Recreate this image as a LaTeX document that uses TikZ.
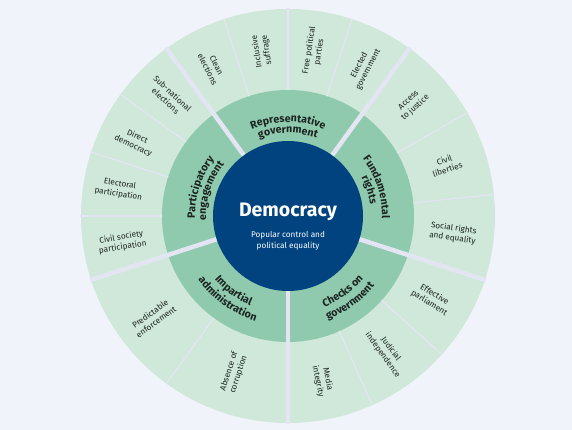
\documentclass[tikz,border=0pt]{standalone}
\usepackage{fontspec}
\setmainfont{Fira Sans}
\usetikzlibrary{decorations.text}
\definecolor{bg}{HTML}{F0F3FA}
\definecolor{outerg}{HTML}{CFE8D9}
\definecolor{midg}{HTML}{8FCAAE}
\definecolor{dblue}{HTML}{00437F}
\definecolor{sep}{HTML}{E3E6F2}
\definecolor{txt}{HTML}{1B2420}
\newcommand\midfont{\fontsize{10.6}{12}\selectfont\bfseries}
\begin{document}
\begin{tikzpicture}[x=1pt,y=1pt,
  item/.style={align=center, font=\fontsize{8.2}{10}\selectfont, text=txt, inner sep=0pt},
  thinsep/.style={draw=sep, line width=1.2pt},
  thicksep/.style={draw=sep, line width=4.5pt},
  curvelabel/.style={decorate, decoration={text along path, text align=center, text color=txt, text={|\midfont|#1}}}
]
\fill[bg] (-288,-214) rectangle (284,216);
\useasboundingbox (-288,-214) rectangle (284,216);
\fill[outerg] (0,0) circle (207);
\fill[midg] (0,0) circle (126);
\foreach \a in {108,90,72,30,6,318,294,234,144,162,180}
  \draw[thinsep] (\a:126) -- (\a:207.5);
\foreach \a in {126,54,-18,270,198}
  \draw[thicksep] (\a:70) -- (\a:208);
\fill[dblue] (0,0) circle (75);

% centre
\node[font=\fontsize{19.5}{22}\selectfont\bfseries, text=white] (dem) at (0,4) {Democracy};
\node[font=\fontsize{8.2}{11}\selectfont, text=white, align=center] (sub) at (0,-24.5) {Popular control and\\political equality};

% middle ring labels
\path[curvelabel=Representative] (126:94) arc[start angle=126, end angle=54, radius=94];
\path[curvelabel=government] (126:83) arc[start angle=126, end angle=54, radius=83];
\path[curvelabel=Fundamental] (54:94) arc[start angle=54, end angle=-18, radius=94];
\path[curvelabel=rights] (54:83) arc[start angle=54, end angle=-18, radius=83];
\path[curvelabel=Participatory] (198:93) arc[start angle=198, end angle=126, radius=93];
\path[curvelabel=engagement] (198:82) arc[start angle=198, end angle=126, radius=82];
\path[curvelabel=Checks on] (270:98) arc[start angle=270, end angle=342, radius=98];
\path[curvelabel=government] (270:111) arc[start angle=270, end angle=342, radius=111];
\path[curvelabel=Impartial] (198:97) arc[start angle=198, end angle=270, radius=97];
\path[curvelabel=administration] (198:110) arc[start angle=198, end angle=270, radius=110];

% outer items
\node[item, rotate=-63] (clean) at (117:167) {Clean\\elections};
\node[item, rotate=99] (incl) at (99:167) {Inclusive\\suffrage};
\node[item, rotate=81] (free) at (81:167) {Free political\\parties};
\node[item, rotate=63] (elected) at (63:167) {Elected\\government};
\node[item, rotate=42] (access) at (42:167) {Access\\to justice};
\node[item, rotate=18] (civlib) at (18:166) {Civil\\liberties};
\node[item, rotate=-8] (social) at (-6:166) {Social rights\\and equality};
\node[item, rotate=-32] (effective) at (-30:166) {Effective\\parliament};
\node[item, rotate=-54] (judicial) at (-54:168) {Judicial\\independence};
\node[item, rotate=-78] (media) at (-78:168) {Media\\integrity};
\node[item, rotate=72] (absence) at (251:166) {Absence of\\corruption};
\node[item, rotate=36] (predict) at (217:169) {Predictable\\enforcement};
\node[item, rotate=9] (civsoc) at (189:168) {Civil society\\participation};
\node[item, rotate=-9] (electoral) at (171:171) {Electoral\\participation};
\node[item, rotate=-25] (direct) at (154:170) {Direct\\democracy};
\node[item, rotate=-43] (subnat) at (135:168) {Sub-national\\elections};
\end{tikzpicture}
\end{document}
